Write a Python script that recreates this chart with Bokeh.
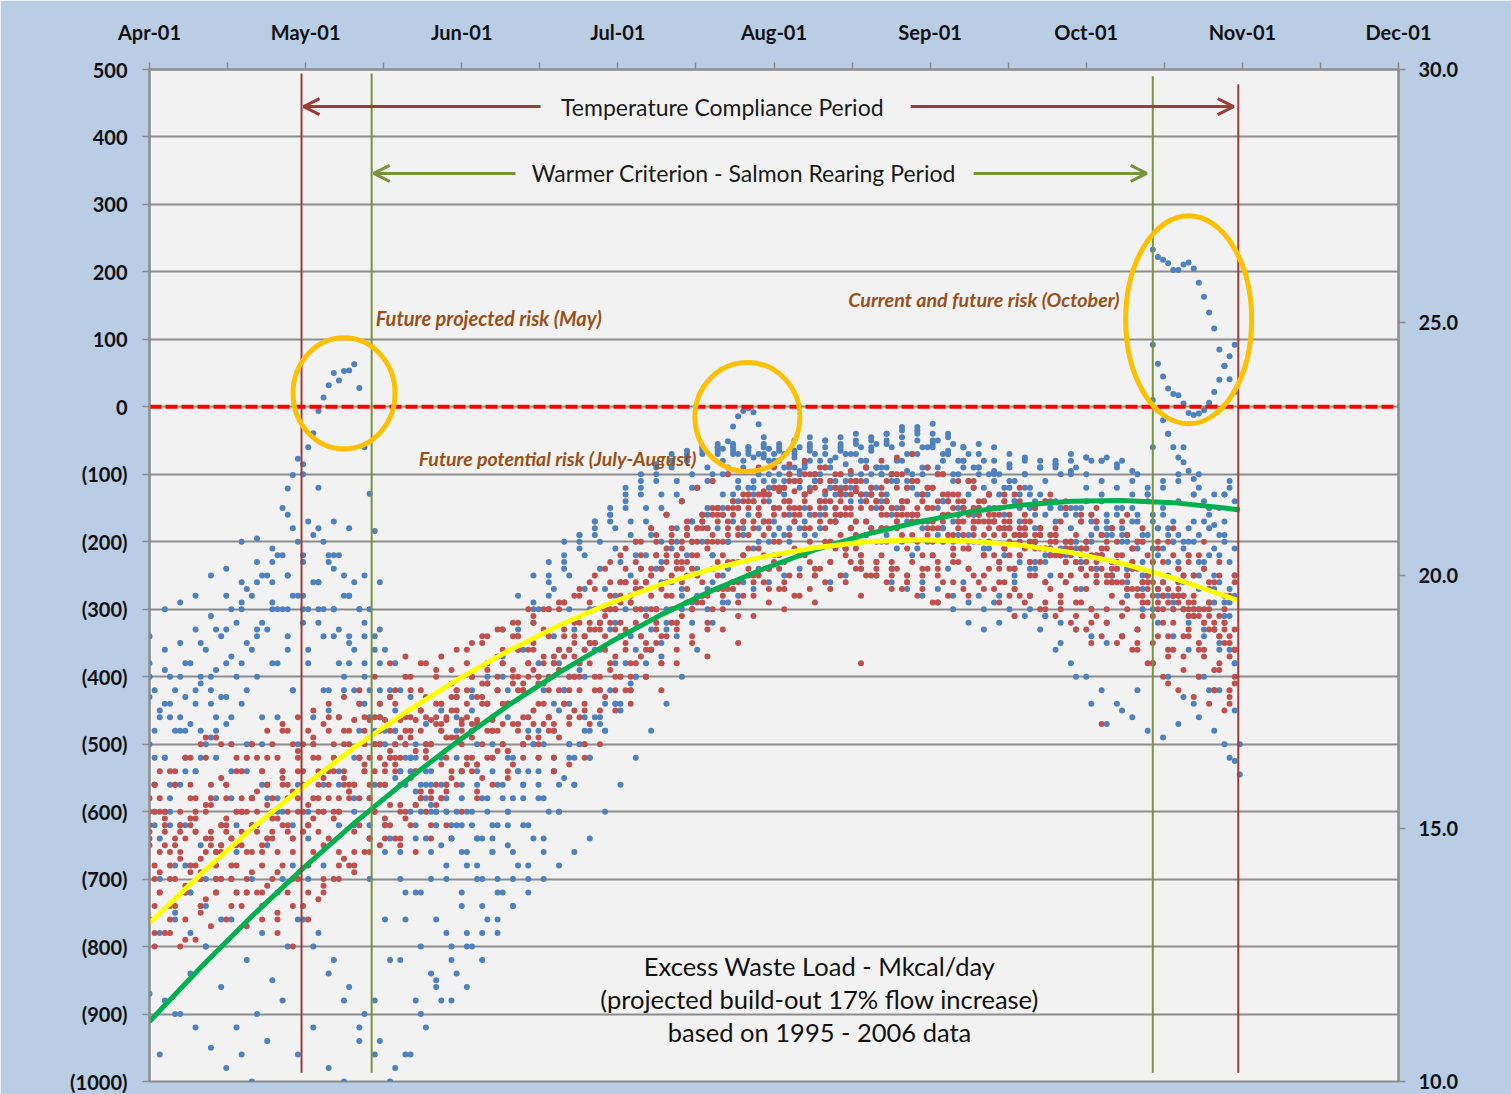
from bokeh.plotting import figure
from bokeh.models import Range1d, LinearAxis, FixedTicker, Arrow, OpenHead, Label
from bokeh.embed import file_html
from bokeh.resources import INLINE

# ---------------- axis ticks ----------------
X_TICKS = [0, 30.5, 61, 91.5, 122, 152.5, 183, 213.5, 244]
X_TICK_LABELS = ["Apr-01", "May-01", "Jun-01", "Jul-01", "Aug-01", "Sep-01", "Oct-01", "Nov-01", "Dec-01"]
X_MINOR_TICKS = [15.25, 45.75, 76.25, 106.75, 137.25, 167.75, 198.25, 228.75]
Y_TICKS = [500, 400, 300, 200, 100, 0, -100, -200, -300, -400, -500, -600, -700, -800, -900, -1000]
Y_TICK_LABELS = ["500", "400", "300", "200", "100", "0", "(100)", "(200)", "(300)", "(400)", "(500)",
                 "(600)", "(700)", "(800)", "(900)", "(1000)"]
T_TICKS = [10, 15, 20, 25, 30]
T_TICK_LABELS = ["10.0", "15.0", "20.0", "25.0", "30.0"]

# ---------------- data (days after Apr-01, Mkcal/day), sampled every 3 days per year ----------------
B1 = [-340,-300,-290,-280,-250, -240,-200,-195,-230,-160, -100,-120,-170,-180,-250, -330,-380,-430,-470,-450,
      -430,-420,-380,-330,-280, -250,-230,-200,-190,-170, -160,-140,-120,-100,-80, -70,-60,-60,-55,-60,
      -60,-55,-50,-45,-50, -45,-40,-50,-40,-35, -30,-25,-40,-60,-55, -60,-70,-80,-90,-85,
      -80,-75,-80,-85,-95, -120,-150,-110,-130,-180,-190]
B2 = [-420,-400,-380,-350,-330, -300,-270,-250,-220,-180, -170,-200,-220,-260,-300, -360,-420,-500,-540,-560,
      -540,-500,-460,-420,-360, -300,-270,-250,-220,-200, -180,-170,-150,-130,-110, -100,-90,-80,-70,-75,
      -80,-70,-60,-70,-80, -70,-60,-55,-60,-70, -60,-50,-55,-70,-80, -100,-110,-120,-110,-100,
      -90,-80,-75,-80,-100, -60,-40,-60,-100,-130,-110]
B3 = [-450,-480,-470,-500,-430, -400,-360,-330,-300,-280, -260,-230,-280,-300,-340, -420,-520,-580,-600,-620,
      -600,-580,-560,-520,-480, -420,-380,-330,-300,-270, -230,-200,-180,-160,-140, -120,-110,-100,-90,-100,
      -110,-100,-90,-100,-110, -100,-90,-100,-110,-100, -90,-80,-100,-120,-130, -140,-150,-160,-150,-140,
      -150,-170,-180,-190,-200, -180,-170,-200,-230,-220,-250]
B4 = [-500,-520,-560,-540,-490, -470,-440,-400,-380,-360, -320,-300,-340,-380,-440, -500,-550,-600,-640,-650,
      -620,-600,-580,-560,-540, -500,-460,-420,-380,-350, -300,-260,-240,-220,-200, -180,-160,-150,-140,-130,
      -130,-120,-110,-120,-130, -120,-110,-120,-130,-140, -130,-120,-130,-150,-160, -170,-180,-190,-180,-170,
      -180,-200,-220,-240,-230, -250,-260,-280,-300,-290,-310]
B5 = [-560,-600,-620,-650,-580, -540,-520,-560,-600,-640, -700,-680,-620,-600,-640, -660,-700,-720,-700,-680,
      -660,-640,-620,-600,-560, -540,-520,-500,-480,-460, -440,-420,-400,-370,-340, -320,-300,-290,-280,-270,
      -260,-250,-240,-250,-260, -250,-240,-250,-260,-270, -280,-290,-300,-320,-330, -320,-310,-300,-310,-320,
      -330,-340,-350,-340,-330, -300,-280,-260,-250,-270,-290]
B6 = [-700,-750,-780,-800,-760, -720,-700,-650,-600,-560, -500,-450,-420,-480,-560, -640,-720,-800,-850,-880,
      -860,-820,-780,-740,-700, -660,-600,-560,-520,-480, -450,-400,-360,-320,-280, -250,-220,-200,-180,-160,
      -150,-140,-130,-140,-150, -140,-130,-140,-150,-160, -150,-140,-160,-180,-200, -210,-220,-230,-220,-210,
      -220,-240,-260,-280,-300, -320,-340,-360,-400,-420,-450]
B7 = [-870,-880,-900,-920,-950, -980,-960,-900,-850,-800, -760,-780,-820,-860,-900, -940,-980,-960,-920,-880,
      -840,-800,-760,-720,-680, -640,-600,-550,-500,-460, -420,-380,-340,-300,-260, -220,-200,-180,-170,-160,
      -170,-180,-170,-160,-150, -160,-170,-180,-190,-200, -210,-220,-240,-260,-280, -290,-300,-310,-330,-360,
      -380,-400,-420,-440,-460, -480,-490,-470,-440,-420,-500]
B8 = [-600,-560,-540,-520,-480, -460,-500,-540,-580,-620, -600,-560,-540,-580,-620, -560,-540,-520,-560,-600,
      -620,-640,-660,-650,-620, -580,-540,-500,-460,-420, -380,-340,-300,-260,-220, -200,-180,-160,-150,-140,
      -140,-130,-120,-110,-120, -110,-100,-90,-100,-110, -100,-90,-100,-110,-120, -130,-140,-150,-160,-150,
      -150,-160,-170,-180,-170, -160,-180,-200,-190,-210,-230]
B9 = [-780,-760,-720,-700,-650, -620,-580,-640,-700,-760, -800,-840,-880,-920,-960, -1000,-960,-900,-860,-820,
      -800,-780,-760,-740,-720, -700,-680,-660,-640,-600, -560,-520,-480,-440,-400, -360,-320,-290,-260,-240,
      -220,-200,-190,-180,-170, -180,-190,-200,-210,-220, -200,-180,-170,-160,-150, -160,-170,-180,-190,-200,
      -210,-220,-230,-240,-250, -270,-290,-310,-330,-350,-380]
B10 = [-380,-360,-400,-420,-440, -430,-380,-330,-290,-250, -230,-260,-300,-350,-400, -460,-500,-520,-540,-560,
       -520,-480,-440,-400,-360, -320,-280,-240,-210,-190, -170,-150,-130,-110,-90, -80,-70,-65,-60,-70,
       -75,-80,-70,-65,-60, -55,-50,-45,-40,-30, -35,-50,-70,-90,-100, -110,-120,-100,-90,-80,
       -70,-75,-80,-90,-110, -130,-160,-190,-200,-220,-200]
B11 = [-480,-460,-430,-410,-390, -370,-350,-320,-300,-280, -300,-340,-380,-420,-460, -500,-540,-570,-590,-600,
       -580,-560,-540,-520,-500, -480,-440,-400,-360,-320, -280,-250,-220,-200,-180, -170,-160,-150,-140,-130,
       -120,-110,-100,-110,-120, -130,-140,-150,-160,-170, -180,-190,-200,-210,-220, -230,-250,-280,-310,-350,
       -400,-440,-470,-450,-420, -380,-400,-430,-460,-480,-520]
B12 = [-640,-680,-720,-740,-700, -660,-620,-580,-540,-500, -460,-420,-400,-440,-480, -520,-560,-600,-620,-640,
       -680,-700,-720,-700,-680, -640,-600,-560,-520,-480, -440,-400,-360,-330,-300, -280,-260,-240,-220,-200,
       -190,-180,-170,-160,-170, -180,-190,-180,-170,-160, -170,-180,-190,-200,-210, -220,-230,-240,-250,-260,
       -270,-260,-250,-240,-230, -220,-200,-180,-170,-190,-210]
B13 = [-400,-520,-460,-540,-420, -380,-300,-340,-260,-300, -220,-180,-240,-280,-320, -380,-450,-520,-580,-520,
       -480,-450,-410,-380,-340, -300,-260,-230,-200,-180, -160,-130,-110,-90,-80, -75,-65,-60,-70,-65,
       -70,-65,-75,-60,-70, -65,-55,-60,-50,-55, -50,-40,-45,-60,-70, -80,-90,-100,-90,-85,
       -95,-100,-110,-120,-130, -140,-120,-100,-130,-150,-170]
B14 = [-520,-440,-480,-400,-460, -500,-420,-460,-380,-420, -360,-300,-330,-360,-420, -480,-560,-620,-660,-700,
       -720,-680,-640,-600,-560, -520,-480,-440,-400,-360, -320,-290,-260,-230,-200, -170,-150,-130,-120,-110,
       -100,-90,-95,-100,-90, -85,-80,-90,-100,-95, -90,-100,-110,-130,-140, -150,-140,-130,-140,-150,
       -160,-170,-160,-150,-160, -170,-190,-210,-230,-250,-270]
B15 = [-960,-900,-840,-800,-860, -920,-1000,-940,-880,-960, -920,-980,-1000,-940,-880, -820,-760,-720,-760,-800,
       -780,-740,-700,-660,-620, -580,-560,-520,-480,-440, -400,-360,-330,-300,-270, -240,-220,-200,-190,-180,
       -170,-160,-150,-140,-130, -120,-110,-100,-110,-120, -130,-140,-150,-160,-170, -180,-190,-200,-210,-220,
       -230,-240,-250,-260,-270, -280,-300,-320,-340,-360,-380]
B16 = [-400,-440,-480,-440,-400, -330,-290,-260,-300,-340, -300,-260,-220,-280,-340, -420,-480,-540,-560,-580,
       -600,-620,-600,-580,-540, -500,-460,-420,-390,-360, -330,-300,-270,-240,-210, -190,-170,-150,-130,-120,
       -110,-100,-90,-80,-90, -100,-110,-100,-90,-80, -70,-60,-70,-80,-90, -100,-110,-120,-130,-140,
       -150,-140,-130,-150,-170, -190,-210,-230,-250,-270,-290]
B17 = [-560,-620,-680,-740,-700, -760,-820,-780,-720,-680, -640,-600,-560,-620,-700, -760,-820,-880,-840,-780,
       -740,-700,-660,-620,-580, -560,-540,-520,-500,-470, -440,-410,-380,-350,-320, -290,-270,-250,-230,-210,
       -200,-190,-180,-190,-200, -210,-220,-230,-240,-250, -260,-270,-280,-290,-300, -280,-260,-240,-230,-220,
       -210,-200,-190,-200,-210, -230,-250,-280,-300,-330,-360]
B18 = [-460,-420,-380,-360,-340, -320,-280,-250,-220,-200, -190,-220,-250,-300,-360, -430,-500,-560,-600,-640,
       -660,-640,-620,-580,-540, -500,-450,-400,-350,-300, -260,-220,-190,-160,-140, -120,-100,-90,-80,-70,
       -80,-90,-85,-80,-75, -70,-80,-90,-80,-70, -60,-70,-80,-90,-100, -120,-130,-140,-150,-160,
       -170,-180,-190,-200,-190, -180,-200,-220,-240,-260,-280]
B19 = [-430,-390,-350,-330,-310, -280,-260,-230,-210,-250, -280,-320,-300,-340,-380, -440,-480,-520,-500,-480,
       -460,-430,-400,-370,-330, -290,-250,-220,-190,-170, -150,-120,-100,-85,-70, -65,-60,-55,-65,-60,
       -55,-60,-65,-55,-50, -60,-70,-65,-55,-45, -40,-55,-65,-80,-90, -95,-85,-75,-80,-90,
       -100,-120,-140,-160,-150, -130,-110,-140,-170,-150,-130]
B20 = [-620,-580,-520,-480,-520, -580,-540,-500,-460,-420, -380,-420,-460,-520,-580, -620,-660,-640,-600,-580,
       -560,-540,-500,-460,-420, -380,-340,-300,-270,-240, -210,-190,-170,-150,-130, -120,-110,-100,-110,-120,
       -130,-120,-110,-100,-110, -120,-130,-120,-110,-120, -130,-150,-170,-190,-210, -230,-240,-230,-220,-210,
       -200,-190,-180,-190,-200, -210,-230,-250,-270,-290,-310]
BLUE_TRACES = [B1, B2, B3, B4, B5, B6, B7, B8, B9, B10, B11, B12, B13, B14, B15, B16, B17, B18, B19, B20]

# daily blue runs that cross zero
MAY_SPIKE_DAYS = [26, 27, 28, 29, 30, 31, 32, 33, 34, 35, 36, 37, 38, 39, 40, 41, 42, 43, 44, 45]
MAY_SPIKE = [-150, -121, -101, -77, -85, -60, -39, -6, 14, 32, 50, 39, 53, 54, 63, 28, -60, -129, -184, -260]
AUG_SPIKE_DAYS = [111, 112, 113, 114, 115, 116, 117, 118, 119, 120, 121, 122]
AUG_SPIKE = [-70, -62, -51, -29, -14, -6, -2, -8, -26, -45, -62, -70]
OCT_DAYS = [196, 197, 198, 199, 200, 201, 202, 203, 204, 205, 206, 207, 208, 209, 210, 211, 212]
OCT_A = [233, 222, 218, 213, 203, 203, 211, 214, 205, 184, 163, 140, 116, 85, 61, 41, 22]
OCT_B = [92, 64, 45, 27, 19, 17, 5, -9, -12, -10, -5, 6, 22, 40, 60, 75, 92]
OCT_C = [10, -5, -20, -40, -60, -75, -82, -95, -107, -120, -140, -160, -175, -150, -130, -120, -140]
BLUE_EXTRA_DAYS = [212, 213, 213]
BLUE_EXTRA = [-525, -545, -500]

R1 = [-630,-630,-630,-630,-630, -630,-630,-630,-630,-630, -630,-630,-600,-570,-540, -520,-500,-480,-460,-440,
      -420,-400,-380,-360,-340, -320,-300,-290,-270,-250, -230,-210,-200,-190,-180, -170,-160,-150,-140,-130,
      -125,-125,-125,-125,-125, -125,-125,-130,-140,-150, -160,-170,-160,-150,-140, -150,-160,-170,-180,-190,
      -200,-210,-220,-230,-240, -250,-260,-270,-280,-300,-320]
R2 = [-560,-540,-520,-500,-490, -500,-520,-540,-520,-500, -480,-470,-460,-464,-464, -464,-464,-464,-464,-464,
      -464,-464,-464,-440,-420, -400,-380,-360,-340,-320, -300,-280,-260,-240,-220, -200,-180,-160,-150,-140,
      -130,-120,-110,-100,-110, -120,-130,-140,-150,-140, -130,-140,-150,-160,-170, -180,-190,-200,-210,-220,
      -230,-220,-210,-220,-240, -260,-270,-280,-300,-320,-340]
R3 = [-600,-560,-520,-490,-500, -520,-500,-480,-470,-460, -450,-440,-430,-420,-400, -380,-370,-380,-400,-390,
      -360,-340,-330,-320,-300, -300,-290,-280,-260,-240, -220,-200,-180,-160,-140, -120,-110,-100,-95,-90,
      -90,-85,-80,-90,-100, -95,-90,-80,-75,-70, -90,-100,-110,-120,-130, -130,-140,-150,-140,-150,
      -160,-170,-180,-190,-200, -210,-220,-230,-240,-250,-260]
R4 = [-760,-780,-800,-790,-770, -760,-740,-720,-700,-720, -740,-730,-700,-680,-660, -650,-640,-620,-600,-580,
      -560,-540,-520,-500,-480, -470,-460,-440,-420,-400, -380,-360,-340,-320,-300, -290,-280,-270,-260,-250,
      -260,-270,-280,-270,-260, -250,-240,-250,-260,-270, -280,-290,-280,-270,-260, -270,-280,-290,-300,-310,
      -320,-330,-340,-350,-360, -380,-400,-420,-430,-440,-450]
R5 = [-680,-700,-720,-690,-660, -640,-660,-680,-660,-640, -620,-600,-580,-560,-560, -540,-520,-510,-500,-490,
      -480,-470,-460,-440,-420, -400,-380,-360,-340,-320, -300,-280,-260,-240,-230, -220,-210,-200,-190,-180,
      -170,-160,-150,-160,-170, -160,-150,-140,-150,-160, -170,-180,-190,-200,-190, -180,-190,-200,-210,-220,
      -230,-240,-250,-260,-270, -280,-290,-300,-310,-330,-350]
R6 = [-720,-700,-680,-660,-650, -600,-580,-560,-550,-540, -520,-540,-560,-580,-600, -620,-600,-580,-560,-540,
      -520,-500,-480,-470,-460, -440,-420,-400,-380,-360, -340,-320,-300,-280,-260, -250,-240,-230,-220,-210,
      -200,-190,-180,-170,-160, -150,-140,-150,-160,-170, -180,-170,-160,-170,-180, -190,-200,-210,-220,-230,
      -240,-250,-260,-270,-280, -290,-300,-310,-320,-340,-360]
R7 = [-640,-620,-600,-580,-560, -580,-600,-620,-600,-580, -560,-540,-520,-500,-480, -460,-440,-420,-430,-440,
      -420,-400,-390,-380,-360, -350,-340,-330,-320,-300, -280,-260,-240,-220,-200, -190,-180,-170,-160,-150,
      -140,-150,-160,-150,-140, -130,-120,-130,-140,-150, -160,-150,-140,-150,-160, -170,-180,-190,-180,-190,
      -200,-210,-220,-230,-240, -260,-280,-290,-300,-310,-330]
R8 = [-800,-780,-760,-740,-720, -700,-720,-740,-760,-740, -720,-700,-680,-660,-640, -620,-600,-590,-580,-560,
      -540,-530,-520,-510,-500, -520,-540,-530,-520,-500, -450,-420,-400,-380,-360, -340,-320,-300,-290,-280,
      -270,-260,-250,-240,-230, -220,-230,-240,-250,-260, -250,-240,-230,-240,-250, -260,-270,-280,-290,-300,
      -310,-320,-300,-310,-330, -350,-370,-390,-400,-420,-440]
R9 = [-660,-640,-620,-640,-660, -680,-660,-640,-620,-600, -580,-560,-540,-520,-500, -480,-460,-450,-440,-430,
      -420,-410,-400,-390,-380, -370,-360,-350,-330,-310, -290,-270,-250,-230,-210, -200,-190,-180,-170,-160,
      -150,-140,-130,-140,-150, -160,-170,-180,-170,-160, -150,-160,-170,-180,-170, -180,-190,-200,-190,-200,
      -210,-220,-230,-250,-260, -270,-280,-290,-300,-310,-330]
R10 = [-580,-600,-620,-600,-580, -560,-540,-520,-500,-480, -500,-520,-500,-480,-460, -440,-420,-400,-380,-370,
       -360,-350,-340,-330,-320, -310,-300,-290,-280,-270, -260,-240,-220,-200,-190, -180,-170,-160,-150,-140,
       -130,-120,-110,-100,-90, -100,-110,-120,-110,-100, -110,-120,-130,-140,-150, -160,-170,-180,-190,-200,
       -210,-200,-190,-200,-210, -220,-230,-240,-250,-260,-280]
R11 = [-740,-760,-720,-700,-680, -700,-720,-760,-780,-800, -760,-720,-700,-680,-660, -640,-650,-660,-640,-620,
       -600,-580,-560,-540,-520, -500,-480,-460,-440,-420, -400,-380,-360,-340,-320, -300,-280,-270,-260,-250,
       -240,-230,-220,-210,-200, -210,-220,-230,-240,-250, -240,-230,-220,-210,-220, -230,-240,-250,-260,-280,
       -290,-300,-320,-340,-360, -380,-360,-340,-360,-390,-420]
R12 = [-540,-560,-580,-600,-620, -600,-580,-560,-540,-520, -500,-480,-500,-520,-540, -520,-500,-480,-460,-450,
       -440,-430,-420,-410,-400, -380,-360,-340,-320,-300, -280,-260,-240,-220,-200, -180,-160,-150,-140,-130,
       -120,-110,-100,-110,-120, -130,-140,-130,-120,-110, -120,-130,-140,-150,-160, -170,-180,-190,-200,-210,
       -220,-230,-240,-250,-260, -270,-280,-300,-320,-340,-360]
R13 = [-600,-650,-620,-680,-640, -620,-580,-600,-640,-600, -540,-580,-520,-560,-500, -480,-520,-460,-500,-470,
       -430,-470,-410,-440,-400, -360,-400,-340,-380,-330, -300,-330,-270,-300,-250, -230,-260,-200,-230,-190,
       -170,-200,-150,-180,-160, -140,-170,-130,-160,-140, -150,-180,-140,-170,-150, -170,-200,-160,-190,-180,
       -200,-230,-190,-220,-210, -250,-280,-240,-290,-270,-300]
R14 = [-700,-660,-710,-670,-720, -680,-700,-650,-690,-660, -620,-650,-600,-630,-580, -560,-590,-540,-570,-520,
       -500,-530,-480,-510,-460, -440,-470,-420,-450,-400, -370,-400,-350,-380,-330, -300,-330,-280,-310,-260,
       -240,-270,-220,-250,-230, -210,-240,-200,-230,-210, -220,-250,-210,-240,-220, -240,-270,-230,-260,-250,
       -270,-300,-260,-290,-280, -310,-340,-300,-350,-330,-370]
R15 = [-580,-540,-560,-520,-550, -540,-500,-520,-480,-510, -490,-460,-480,-440,-460, -430,-400,-420,-390,-410,
       -380,-350,-370,-340,-360, -330,-300,-320,-290,-300, -260,-230,-250,-210,-230, -180,-150,-170,-130,-150,
       -120,-100,-130,-110,-120, -110,-90,-120,-100,-110, -120,-100,-130,-110,-130, -140,-120,-150,-130,-150,
       -170,-150,-180,-160,-180, -200,-180,-220,-200,-230,-250]
R16 = [-620,-600,-660,-610,-650, -560,-600,-570,-610,-560, -600,-560,-610,-570,-540, -560,-530,-550,-510,-530,
       -490,-520,-480,-500,-470, -450,-480,-440,-460,-420, -390,-420,-370,-350,-320, -270,-290,-250,-270,-240,
       -220,-240,-210,-230,-200, -190,-210,-180,-200,-190, -200,-220,-190,-210,-200, -220,-240,-210,-230,-220,
       -250,-270,-240,-260,-270, -290,-320,-280,-310,-330,-350]
R17 = [-780,-740,-790,-750,-700, -740,-770,-720,-750,-700, -680,-710,-660,-690,-640, -610,-640,-590,-620,-570,
       -540,-570,-520,-550,-500, -490,-520,-470,-500,-450, -420,-440,-400,-420,-380, -350,-370,-330,-350,-310,
       -290,-300,-280,-290,-270, -260,-280,-250,-270,-260, -270,-290,-260,-280,-270, -290,-310,-280,-300,-290,
       -330,-350,-320,-340,-350, -380,-410,-370,-400,-420,-430]
R18 = [-690,-650,-610,-590,-620, -650,-620,-590,-560,-580, -610,-580,-550,-520,-500, -510,-480,-450,-470,-490,
       -460,-440,-420,-400,-380, -410,-390,-370,-350,-340, -320,-300,-280,-260,-240, -220,-200,-190,-170,-160,
       -160,-150,-140,-150,-170, -180,-170,-160,-180,-190, -190,-200,-180,-190,-200, -210,-220,-200,-210,-230,
       -240,-260,-250,-270,-290, -300,-320,-340,-360,-380,-400]
R19 = [-650,-610,-670,-630,-590, -610,-650,-620,-580,-620, -560,-600,-540,-580,-530, -500,-540,-490,-520,-480,
       -450,-490,-440,-470,-420, -390,-420,-370,-400,-350, -320,-350,-300,-330,-280, -250,-280,-230,-260,-210,
       -190,-220,-170,-200,-180, -160,-190,-150,-180,-160, -170,-200,-160,-190,-170, -190,-220,-180,-210,-200,
       -220,-250,-210,-240,-230, -270,-300,-260,-310,-290,-320]
R20 = [-600,-680,-640,-700,-660, -640,-600,-660,-610,-570, -590,-550,-600,-560,-520, -530,-490,-540,-500,-460,
       -470,-430,-480,-440,-410, -410,-370,-400,-360,-330, -330,-290,-310,-270,-240, -240,-200,-220,-180,-170,
       -180,-140,-160,-120,-140, -150,-110,-140,-100,-120, -140,-100,-130,-110,-140, -160,-130,-170,-140,-170,
       -190,-160,-200,-170,-200, -230,-200,-250,-220,-260,-280]
R21 = [-720,-740,-690,-730,-700, -720,-690,-710,-680,-700, -660,-640,-670,-620,-600, -590,-610,-570,-590,-550,
       -530,-550,-510,-530,-490, -470,-490,-450,-470,-430, -400,-380,-360,-340,-310, -290,-300,-270,-280,-250,
       -230,-250,-220,-240,-210, -230,-250,-220,-240,-230, -240,-260,-230,-250,-240, -260,-280,-250,-270,-260,
       -290,-310,-280,-300,-310, -340,-360,-330,-370,-390,-410]
RED_TRACES = [R1, R2, R3, R4, R5, R6, R7, R8, R9, R10, R11, R12, R13, R14, R15, R16, R17, R18, R19, R20, R21]
RED_EXTRA_DAYS = [139, 186]
RED_EXTRA = [-380, -470]

# polynomial trend lines
TREND_DAYS = [0, 10, 20, 30, 40, 50, 60, 70, 80, 90, 100, 110, 120, 130, 140, 150, 160, 170, 180, 190, 200, 210, 213]
YELLOW_TREND = [-765, -693, -625, -563, -505, -453, -405, -362, -324, -291, -263, -240, -222, -209, -200, -197,
                -199, -205, -216, -232, -254, -280, -288]
GREEN_TREND = [-911, -831, -755, -684, -617, -555, -497, -443, -394, -349, -308, -272, -240, -212, -189, -171,
               -156, -146, -140, -139, -142, -150, -153]

# period markers
VLINE_DAYS = [29.7, 43.4, 196.0, 212.7]
VLINE_TOP = [494, 494, 490, 478]
VLINE_BOTTOM = [-987, -987, -987, -987]
ZERO_X = [0, 244]
ZERO_Y = [0, 0]

# risk circles
RING_DAYS = [38.0, 116.8, 203.0]
RING_VALUES = [20, -15, 129]

# ---------------- colours ----------------
OUTER = "#B9CDE5"
PLOT_BG = "#F2F2F2"
GRID = "#8C8C8C"
BLUE = "#4F81BD"
RED = "#C0504D"
DARKRED = "#9E3B38"
OLIVE = "#77933C"
GOLD = "#FFC000"
NOTE = "#98501A"
FONT = "Lato"


def expand(traces):
    xs, ys = [], []
    for k, tr in enumerate(traces):
        off = k % 3
        for i, v in enumerate(tr):
            xs.append(off + 3 * i)
            ys.append(v)
    return xs, ys


p = figure(width=1511, height=1094, x_range=Range1d(0, 244), y_range=Range1d(-1000, 500),
           x_axis_location="above", output_backend="svg", toolbar_location=None,
           min_border_left=149, min_border_right=113, min_border_top=69, min_border_bottom=13)
p.background_fill_color = PLOT_BG
p.border_fill_color = OUTER
p.outline_line_color = GRID
p.outline_line_width = 2

# top (date) axis
xa = p.xaxis[0]
xa.ticker = FixedTicker(ticks=X_TICKS, minor_ticks=X_MINOR_TICKS)
xa.major_label_overrides = {t: l for t, l in zip(X_TICKS, X_TICK_LABELS)}
# left axis
ya = p.yaxis[0]
ya.ticker = FixedTicker(ticks=Y_TICKS)
ya.major_label_overrides = {t: l for t, l in zip(Y_TICKS, Y_TICK_LABELS)}
# right axis (temperature)
p.extra_y_ranges = {"temp": Range1d(10, 30)}
ra = LinearAxis(y_range_name="temp", ticker=FixedTicker(ticks=T_TICKS))
ra.major_label_overrides = {t: l for t, l in zip(T_TICKS, T_TICK_LABELS)}
p.add_layout(ra, "right")

for ax in (xa, ya, ra):
    ax.axis_line_color = GRID
    ax.axis_line_width = 2
    ax.major_tick_line_color = GRID
    ax.major_tick_line_width = 1.5
    ax.major_tick_in = 0
    ax.major_tick_out = 7
    ax.major_label_text_font = FONT
    ax.major_label_text_font_style = "bold"
    ax.major_label_text_font_size = "20px"
    ax.major_label_text_color = "#111111"
xa.minor_tick_line_color = GRID
xa.minor_tick_line_width = 1.5
xa.minor_tick_in = 0
xa.minor_tick_out = 7
xa.major_label_standoff = 19
ya.minor_tick_line_color = None
ra.minor_tick_line_color = None
ya.major_label_standoff = 15
ra.major_label_standoff = 13

p.xgrid.visible = False
p.ygrid.ticker = FixedTicker(ticks=Y_TICKS)
p.ygrid.grid_line_color = GRID
p.ygrid.grid_line_width = 2

# scatter data
bx, by = expand(BLUE_TRACES)
bx += MAY_SPIKE_DAYS + AUG_SPIKE_DAYS + OCT_DAYS + OCT_DAYS + OCT_DAYS + BLUE_EXTRA_DAYS
by += MAY_SPIKE + AUG_SPIKE + OCT_A + OCT_B + OCT_C + BLUE_EXTRA
rx, ry = expand(RED_TRACES)
rx += RED_EXTRA_DAYS
ry += RED_EXTRA

p.scatter(bx, by, size=6, fill_color=BLUE, line_color=None)
p.scatter(rx, ry, size=6, fill_color=RED, line_color=None)

# trend lines
p.line(TREND_DAYS, GREEN_TREND, line_color="#00B050", line_width=5)
p.line(TREND_DAYS, YELLOW_TREND, line_color="#FFFF00", line_width=5)

# period lines
p.segment(x0=VLINE_DAYS, y0=VLINE_BOTTOM, x1=VLINE_DAYS, y1=VLINE_TOP,
          line_color=[DARKRED, OLIVE, OLIVE, DARKRED], line_width=2)

# zero threshold
p.line(ZERO_X, ZERO_Y, line_color="#FF0000", line_width=4, line_dash="12 4")

# arrows
for xs_, xe_, yy, col in [(76.4, 30.1, 445, DARKRED), (148.7, 211.8, 445, DARKRED),
                          (71.5, 43.8, 346, OLIVE), (161.0, 194.8, 346, OLIVE)]:
    p.add_layout(Arrow(x_start=xs_, y_start=yy, x_end=xe_, y_end=yy, line_color=col, line_width=3,
                       end=OpenHead(size=16, line_color=col, line_width=3)))


def label(x, y, text, size, style="normal", color="#1A1A1A", align="center"):
    p.add_layout(Label(x=x, y=y, text=text, text_font=FONT, text_font_size=size, text_font_style=style,
                       text_color=color, text_align=align, text_baseline="middle"))


label(111.9, 445, "Temperature Compliance Period", "23px")
label(116.1, 346, "Warmer Criterion - Salmon Rearing Period", "23px")
label(44.2, 131, "Future projected risk (May)", "20px", "bold italic", NOTE, "left")
label(52.6, -77, "Future potential risk (July-August)", "19.5px", "bold italic", NOTE, "left")
label(136.5, 159, "Current and future risk (October)", "19.7px", "bold italic", NOTE, "left")
label(130.9, -829, "Excess Waste Load - Mkcal/day", "25.5px", color="#111111")
label(130.9, -878, "(projected build-out 17% flow increase)", "25.5px", color="#111111")
label(130.9, -926, "based on 1995 - 2006 data", "25.5px", color="#111111")

# risk rings
p.ellipse(x=RING_DAYS, y=RING_VALUES, width=[102, 105, 126], height=[111, 109, 208],
          width_units="screen", height_units="screen", fill_color=None, line_color=GOLD, line_width=5)

open("out.html", "w").write(file_html(p, INLINE))
